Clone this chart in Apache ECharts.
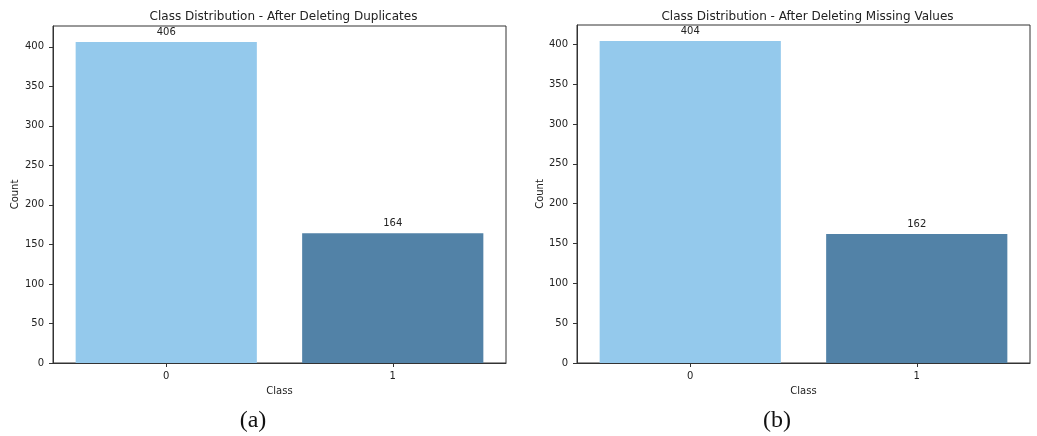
<!DOCTYPE html>
<html>
<head>
<meta charset="utf-8">
<script src="https://cdn.jsdelivr.net/npm/echarts@6/dist/echarts.min.js"></script>
<style>
  html, body { margin: 0; padding: 0; background: #fff; }
  #chart { width: 1037px; height: 436px; }
</style>
</head>
<body>
<div id="chart"></div>
<script>
// Class counts for the two cleaning steps
const categories = ['0', '1'];
const countsAfterDuplicates = [406, 164];
const countsAfterMissing = [404, 162];
const panelTitles = [
  'Class Distribution - After Deleting Duplicates',
  'Class Distribution - After Deleting Missing Values'
];
const panelCaptions = ['(a)', '(b)'];
const yTicks = [0, 50, 100, 150, 200, 250, 300, 350, 400];
const barColors = ['#94c9ec', '#5282a7'];

const FONT = 'DejaVu Sans, sans-serif';
const chart = echarts.init(document.getElementById('chart'), null, { renderer: 'canvas' });

const grids = [
  { left: 53, right: 531, top: 26, bottom: 73 },
  { left: 577, right: 7, top: 25, bottom: 73 }
];
const datasets = [countsAfterDuplicates, countsAfterMissing];

function xAxisFor(i) {
  return {
    type: 'category', gridIndex: i, data: categories,
    boundaryGap: true,
    name: 'Class', nameLocation: 'middle', nameGap: 23,
    nameTextStyle: { fontFamily: FONT, fontSize: 10, color: '#222' },
    axisLine: { show: true, lineStyle: { color: '#333', width: 1 } },
    axisTick: { show: true, alignWithLabel: true, length: 4, lineStyle: { color: '#333' } },
    axisLabel: { fontFamily: FONT, fontSize: 10, color: '#222', margin: 8 },
    splitLine: { show: false }
  };
}
function yAxisFor(i) {
  const top = Math.max(...datasets[i]) * 1.05;
  return {
    type: 'value', gridIndex: i, min: 0, max: top, interval: 50,
    name: 'Count', nameLocation: 'middle', nameGap: i === 0 ? 33 : 31,
    nameTextStyle: { fontFamily: FONT, fontSize: 10, color: '#222' },
    axisLine: { show: true, lineStyle: { color: '#333', width: 1 } },
    axisTick: { show: true, length: 4, lineStyle: { color: '#333' } },
    axisLabel: {
      fontFamily: FONT, fontSize: 10, color: '#222', margin: 9, showMaxLabel: false,
      formatter: v => (yTicks.indexOf(v) >= 0 ? String(v) : '')
    },
    splitLine: { show: false }
  };
}
function seriesFor(i) {
  return {
    type: 'bar', xAxisIndex: i, yAxisIndex: i,
    barWidth: '80%',
    data: datasets[i].map((v, k) => ({ value: v, itemStyle: { color: barColors[k] } })),
    label: {
      show: true, position: 'top', distance: 5,
      fontFamily: FONT, fontSize: 10, color: '#222'
    },
    emphasis: { disabled: true }
  };
}

const centers = grids.map(g => (g.left + (1037 - g.right)) / 2);

chart.setOption({
  animation: false,
  backgroundColor: '#fff',
  grid: grids.map(g => Object.assign({ show: true, borderColor: '#333', borderWidth: 1, backgroundColor: 'transparent' }, g)),
  title: panelTitles.map((t, i) => ({
    text: t, left: centers[i] - 1, top: 6, textAlign: 'center',
    textStyle: { fontFamily: FONT, fontSize: 12, fontWeight: 'normal', color: '#222' }
  })),
  xAxis: [xAxisFor(0), xAxisFor(1)],
  yAxis: [yAxisFor(0), yAxisFor(1)],
  series: [seriesFor(0), seriesFor(1)],
  graphic: panelCaptions.map((c, i) => ({
    type: 'text', x: i === 0 ? 253 : 777, y: 421,
    style: {
      text: c, font: '24px "Liberation Serif", serif', fill: '#111',
      textAlign: 'center', textVerticalAlign: 'middle'
    }
  }))
});
</script>
</body>
</html>
